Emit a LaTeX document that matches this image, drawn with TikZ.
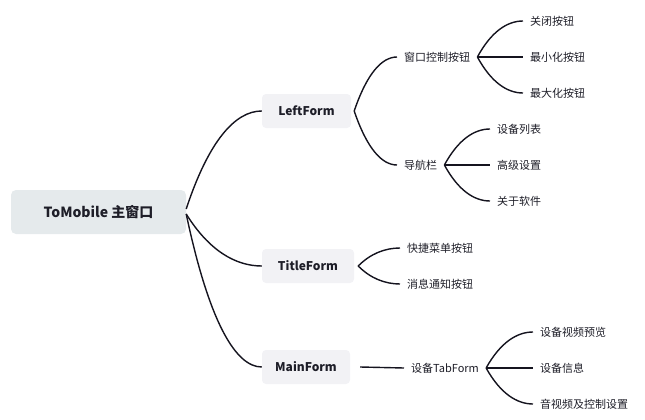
\documentclass[tikz,border=0pt]{standalone}
\usepackage{fontspec}
\setmainfont{Noto Sans CJK SC}
\usetikzlibrary{calc}
\definecolor{rootfill}{HTML}{E5EAEC}
\definecolor{subfill}{HTML}{F2F2F5}
\definecolor{linec}{HTML}{15141F}
\definecolor{textc}{HTML}{1E1E28}
\tikzset{
  rootbox/.style={fill=rootfill, rounded corners=5pt, minimum width=175pt, minimum height=44pt, inner sep=0pt, font=\fontsize{14}{16}\selectfont\bfseries, text=textc},
  subbox/.style={fill=subfill, rounded corners=4pt, minimum height=34pt, inner sep=0pt, font=\fontsize{12}{14}\selectfont\bfseries, text=textc},
  leaf/.style={inner xsep=7pt, inner ysep=2pt, font=\fontsize{11}{13}\selectfont, text=textc, anchor=west},
  conn/.style={draw=linec, line width=1.4pt, to path={let \p1=(\tikztostart), \p2=(\tikztotarget) in
     .. controls ({\x1+0.3*(\x2-\x1)},{\y1+0.7*(\y2-\y1)}) and ({\x2-0.35*(\x2-\x1)},\y2) .. (\tikztotarget)}},
  straight/.style={draw=linec, line width=1.4pt}
}
\begin{document}
\begin{tikzpicture}[x=1pt,y=-1pt]
\useasboundingbox (0,0) rectangle (645,420);
% main nodes
\node[rootbox] (root) at (98.5,212) {ToMobile 主窗口};
\node[subbox, minimum width=89pt] (left) at (306.5,111) {LeftForm};
\node[subbox, minimum width=92pt] (title) at (308,266) {TitleForm};
\node[subbox, minimum width=88pt] (main) at (306,367) {MainForm};
% level 2
\node[leaf] (win) at (397,57) {窗口控制按钮};
\node[leaf] (nav) at (397,165) {导航栏};
\node[leaf] (quick) at (400,248) {快捷菜单按钮};
\node[leaf] (msg) at (400,284) {消息通知按钮};
\node[leaf] (tab) at (404,368) {设备TabForm};
% leaves
\node[leaf] (close) at (523,21) {关闭按钮};
\node[leaf] (min) at (523,57) {最小化按钮};
\node[leaf] (max) at (523,93) {最大化按钮};
\node[leaf] (dev) at (490,129) {设备列表};
\node[leaf] (adv) at (490,165) {高级设置};
\node[leaf] (about) at (490,201) {关于软件};
\node[leaf] (prev) at (533,332) {设备视频预览};
\node[leaf] (info) at (533,368) {设备信息};
\node[leaf] (av) at (533,404) {音视频及控制设置};
% connectors
\draw[conn] ([yshift=3pt]root.east) to (left.west);
\draw[conn] ([yshift=-2pt]root.east) to (title.west);
\draw[conn] ([yshift=-2pt]root.east) to (main.west);
\draw[conn] ([xshift=3pt]left.east) to (win.west);
\draw[conn] ([xshift=3pt]left.east) to (nav.west);
\draw[conn] ([xshift=4pt]title.east) to (quick.west);
\draw[conn] ([xshift=4pt]title.east) to (msg.west);
\draw[straight] ([xshift=10pt]main.east) -- (tab.west);
\draw[conn] (win.east) to (close.west);
\draw[straight] (win.east) -- (min.west);
\draw[conn] (win.east) to (max.west);
\draw[conn] (nav.east) to (dev.west);
\draw[straight] (nav.east) -- (adv.west);
\draw[conn] (nav.east) to (about.west);
\draw[conn] (tab.east) to (prev.west);
\draw[straight] (tab.east) -- (info.west);
\draw[conn] (tab.east) to (av.west);
\end{tikzpicture}
\end{document}
